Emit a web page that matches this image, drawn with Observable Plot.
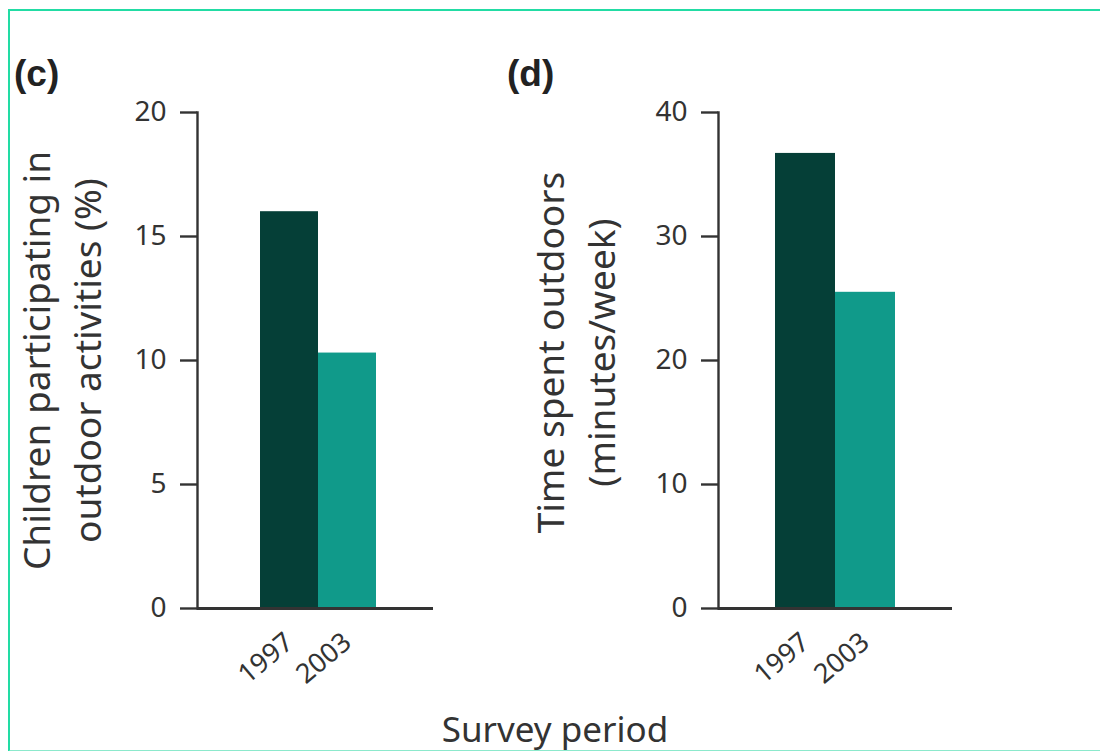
<!DOCTYPE html>
<html>
<head>
<meta charset="utf-8">
<script src="https://cdn.jsdelivr.net/npm/d3@7"></script>
<script src="https://cdn.jsdelivr.net/npm/@observablehq/plot@0.6"></script>
<style>
  html, body { margin: 0; padding: 0; background: #fff; }
  #root { position: relative; width: 1100px; height: 751px; overflow: hidden; font-family: "Noto Sans", sans-serif; }
  #border { position: absolute; left: 8px; top: 9px; width: 1100px; height: 739px; border: 2px solid #22dca4; border-bottom-color: #8ce9cc; }
  .panel { position: absolute; top: 0; }
  .plabel { position: absolute; font-family: "Liberation Sans", Arial, sans-serif; font-weight: bold; font-size: 37px; line-height: 1; color: #222; }
  #xtitle { position: absolute; left: 0; width: 1110px; text-align: center; top: 711px; font-size: 35px; line-height: 1; color: #333; }
</style>
</head>
<body>
<div id="root">
  <div id="border"></div>
  <div class="plabel" style="left:14px; top:55px;">(c)</div>
  <div class="plabel" style="left:507px; top:55px;">(d)</div>
  <div id="panelC" class="panel" style="left:0px;"></div>
  <div id="panelD" class="panel" style="left:520px;"></div>
  <div id="xtitle">Survey period</div>
</div>
<script>
const periods = ["1997", "2003"];
const participation = [16.0, 10.3];   // % children participating (c)
const timeOutdoors = [36.7, 25.5];    // minutes/week (d)
const ticksC = [0, 5, 10, 15, 20];
const ticksD = [0, 10, 20, 30, 40];
const barColors = ["#053f37", "#109a8a"];
const labelC = "Children participating in\noutdoor activities (%)";
const labelD = "Time spent outdoors\n(minutes/week)";

function panel({values, ticks, max, label, width, marginLeft, marginRight, xRange, labelDx, labelDy}) {
  const data = periods.map((p, i) => ({period: p, value: values[i]}));
  return Plot.plot({
    width, height: 720,
    marginLeft, marginRight, marginTop: 112, marginBottom: 112,
    style: {fontFamily: "Noto Sans, sans-serif", fontSize: "28px", color: "#333", background: "transparent", overflow: "visible"},
    x: {domain: periods, range: xRange, padding: 0, label: null},
    y: {domain: [0, max], label: null},
    color: {domain: periods, range: barColors},
    marks: [
      Plot.barY(data, {x: "period", y: "value", fill: "period"}),
      Plot.frame({anchor: "left", stroke: "#333", strokeWidth: 2.4}),
      Plot.axisY({ticks, tickSize: 17, tickPadding: 14, stroke: "#333", strokeWidth: 2.4, fontSize: 28, label: null}),
      Plot.axisX({tickSize: 0, tickPadding: 30, tickRotate: -40, fontSize: 27, label: null}),
      Plot.ruleY([0], {stroke: "#333", strokeWidth: 3}),
      Plot.text([label], {frameAnchor: "left", dx: labelDx, dy: labelDy, rotate: -90, textAnchor: "middle", lineAnchor: "middle", fontSize: 37, lineHeight: 1.38, fill: "#333"})
    ]
  });
}

document.getElementById("panelC").append(panel({
  values: participation, ticks: ticksC, max: 20, label: labelC,
  width: 500, marginLeft: 197, marginRight: 67, xRange: [259, 376], labelDx: -138, labelDy: 0
}));
document.getElementById("panelD").append(panel({
  values: timeOutdoors, ticks: ticksD, max: 40, label: labelD,
  width: 480, marginLeft: 198, marginRight: 48, xRange: [255, 375], labelDx: -145, labelDy: -8
}));
</script>
</body>
</html>
